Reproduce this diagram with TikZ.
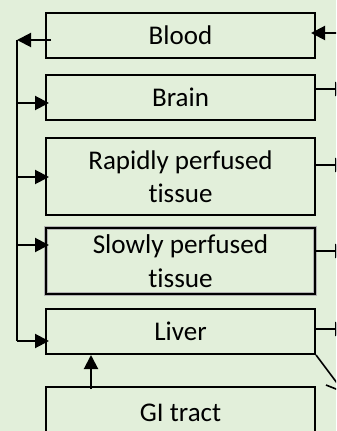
\documentclass[tikz,border=0pt]{standalone}
\usepackage{fontspec}
\setmainfont{Carlito}[Ligatures=NoCommon]
\usetikzlibrary{arrows.meta}

\definecolor{paleleaf}{HTML}{E2EFDA}

\tikzset{
	organ/.style={draw, line width=1pt, minimum width=134.5pt, inner sep=0pt, align=center,
		font=\fontsize{13.5}{16.5}\selectfont},
	slowbox/.style={organ, preaction={draw, gray!60, line width=2.2pt},
		font=\fontsize{13.6}{17}\selectfont},
	flow/.style={line width=1pt, -{Triangle[length=7pt,width=7pt]}},
}

\begin{document}
\begin{tikzpicture}[x=0.5pt,y=-0.5pt]
			\useasboundingbox (0,0) rectangle (336,431);
			\fill[paleleaf] (0,0) rectangle (336,431);
			\clip (0,0) rectangle (336,431);

			% compartments
			\node[organ, minimum height=22.5pt] (blood) at (180.5,35.5) {Blood};
			\node[organ, minimum height=22.5pt] (brain) at (180.5,97.5) {Brain};
			\node[organ, minimum height=38.5pt] (rapid) at (180.5,176.5) {Rapidly perfused\\tissue};
			\node[slowbox, minimum height=33pt] (slow) at (180.5,261) {Slowly perfused\\tissue};
			\node[organ, minimum height=22.5pt] (liver) at (180.5,331.5) {Liver};
			\node[organ, minimum height=26pt] (gi) at (180.5,413) {GI tract};

			% left bus
			\coordinate (bustop) at (17,40);
			\coordinate (busend) at (17,341);
			\draw[flow, shorten <=-3pt] (blood.west |- bustop) -- (bustop);
			\draw[line width=1pt] (bustop) -- (busend);
			\draw[flow, shorten >=-2pt] (busend) -- (liver.west |- busend);
			\draw[flow, shorten >=-2pt] (17,103) -- (brain.west |- 0,103);
			\draw[flow, shorten >=-2pt] (17,177) -- (rapid.west |- 0,177);
			\draw[flow, shorten >=-2pt] (17,245) -- (slow.west |- 0,245);

			% gut to liver
			\draw[flow, shorten <=-1.5pt] (gi.north -| 91,0) -- (liver.south -| 91,0);

			% right side
			\coordinate (bloodin) at (352,33);
			\coordinate (brainout) at (349,89);
			\coordinate (rapidout) at (349,165);
			\coordinate (slowout) at (349,251);
			\coordinate (liverout) at (349,329);
			\draw[flow, shorten >=-2.5pt] (bloodin) -- (blood.east |- bloodin);
			\draw[flow] (brain.east |- brainout) -- (brainout);
			\draw[flow] (rapid.east |- rapidout) -- (rapidout);
			\draw[flow] (slow.east |- slowout) -- (slowout);
			\draw[flow] (liver.east |- liverout) -- (liverout);

			% liver outlet
			\coordinate (liverdrain) at (352,403);
			\draw[line width=0.8pt] (liver.south east) -- (liverdrain);
			\coordinate (wingfrom) at (326,385);
			\coordinate (wingto) at (346,393);
			\draw[line width=0.8pt] (wingfrom) -- (wingto);

		\end{tikzpicture}
\end{document}
